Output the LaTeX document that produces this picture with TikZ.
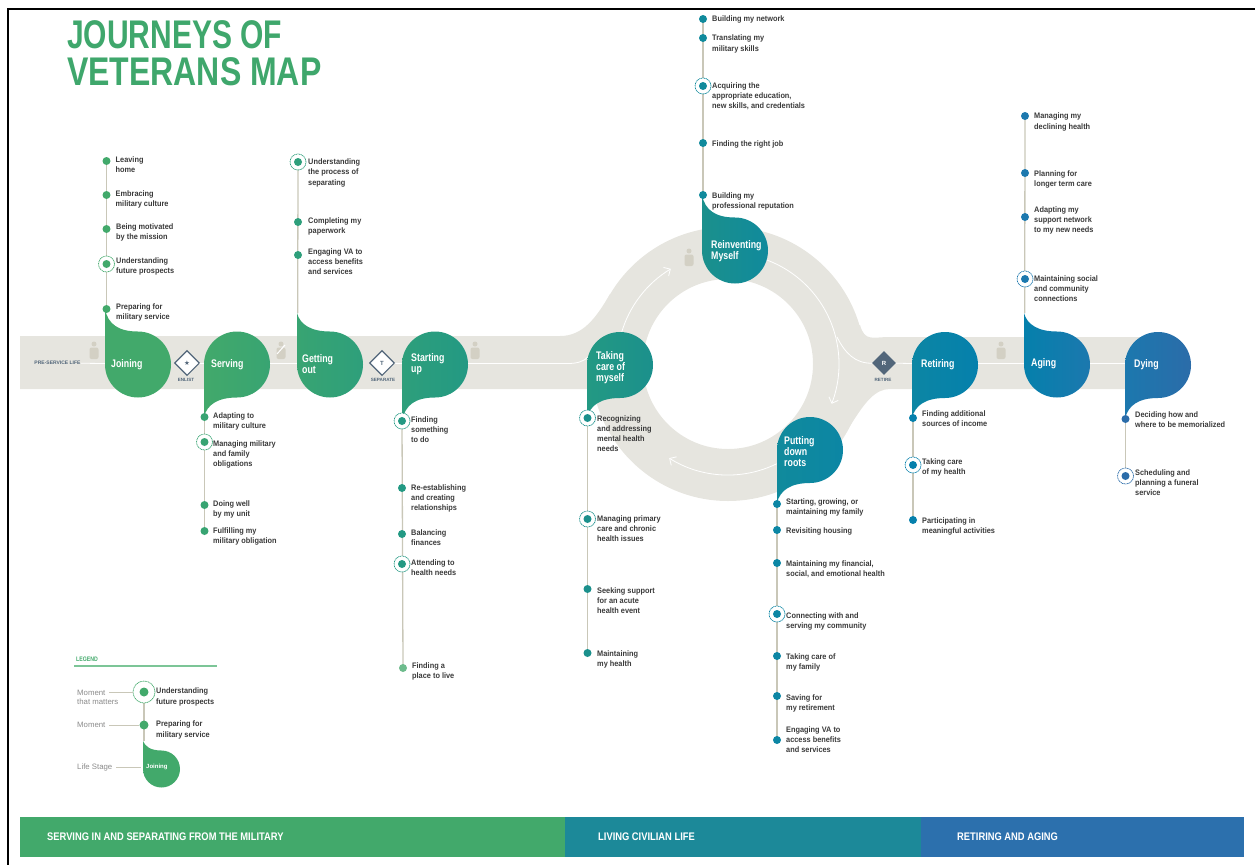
\documentclass[tikz,border=0pt]{standalone}
\usepackage{fontspec}
\usetikzlibrary{shapes.geometric,arrows.meta}
\setmainfont{Liberation Sans}
\newfontfamily\titlef[FakeStretch=0.75]{Liberation Sans}
\newfontfamily\titleg[FakeStretch=0.80]{Liberation Sans}
\newfontfamily\condf[FakeStretch=0.8]{Liberation Sans}
\newfontfamily\barf[FakeStretch=0.85]{Liberation Sans}
\newfontfamily\momf[FakeStretch=0.92]{Liberation Sans}
\newfontfamily\symf{DejaVu Sans}
\definecolor{bandc}{HTML}{E6E5DF}
\definecolor{spinec}{HTML}{C9C7B8}
\definecolor{iconc}{HTML}{D3D0C4}
\definecolor{slatec}{HTML}{52667A}
\definecolor{titlec}{HTML}{3FA76C}
\definecolor{momtc}{HTML}{3A3A3A}
\definecolor{legc}{HTML}{8A8A8A}
\definecolor{legrule}{HTML}{7CC597}
\definecolor{cj}{HTML}{42A96B}
\definecolor{cs}{HTML}{38A472}
\definecolor{cg}{HTML}{2E9F7B}
\definecolor{cu}{HTML}{239983}
\definecolor{ct}{HTML}{1B908C}
\definecolor{cr}{HTML}{108A9C}
\definecolor{cp}{HTML}{0C86A4}
\definecolor{ci}{HTML}{0580AC}
\definecolor{ca}{HTML}{1C78AE}
\definecolor{cd}{HTML}{2B6CA9}
\definecolor{cl}{HTML}{6DBB8C}
\definecolor{barteal}{HTML}{1C8999}
\definecolor{barblue}{HTML}{2C70AD}
\pgfdeclarelayer{bandlayer}
\pgfdeclarelayer{spinelayer}
\pgfsetlayers{bandlayer,spinelayer,main}
\tikzset{
 dotn/.style={circle,inner sep=0,minimum size=8pt},
 ringn/.style={circle,inner sep=0,minimum size=16pt,fill=white,line width=.7pt,dash pattern=on 1.1pt off .6pt},
 momtext/.style={inner sep=0,anchor=north west,align=left,text=momtc,font=\momf\bfseries\fontsize{8}{10.3}\selectfont},
 bloblab/.style={inner sep=0,anchor=west,align=left,text=white,font=\condf\bfseries\fontsize{11}{10.9}\selectfont},
 spinel/.style={draw=spinec,line width=1.3pt},
 flow/.style={draw=white,line width=.8pt},
 flowarrow/.style={draw=white,line width=.8pt,-{Straight Barb[length=5pt,width=10pt]}},
 gate/.style={diamond,inner sep=0,minimum width=25pt,minimum height=25pt,fill=white,draw=slatec,line width=1.1pt,text=slatec},
 gatefilled/.style={diamond,inner sep=0,minimum width=24pt,minimum height=24pt,fill=slatec,text=white},
 gatelab/.style={inner sep=0,text=slatec,font=\bfseries\fontsize{4.6}{5}\selectfont},
 legtext/.style={inner sep=0,anchor=west,align=left,text=legc,font=\fontsize{7.8}{9.2}\selectfont},
 legline/.style={draw=spinec,line width=.8pt},
 bartext/.style={inner sep=0,anchor=west,text=white,font=\barf\bfseries\fontsize{11}{12}\selectfont},
}
\newcommand\bup[9]{% name,L,cy,tip,c1,c2,labelx,labely,text
 \shade[left color=#5,right color=#6] (#2,-#3) -- (#2,-#4) .. controls (#2+3,{-#3+40}) and (#2+14,{-#3+33}) .. (#2+33,{-#3+33}) arc (90:-180:33) -- cycle;
 \coordinate (#1tip) at (#2+.7,-#4);
 \node[bloblab] (#1) at (#7,-#8) {#9};}
\newcommand\bdn[9]{%
 \shade[left color=#5,right color=#6] (#2,-#3) arc (180:-90:33) .. controls (#2+14,{-#3-33}) and (#2+3,{-#3-40}) .. (#2,-#4) -- cycle;
 \coordinate (#1tip) at (#2+.7,-#4);
 \node[bloblab] (#1) at (#7,-#8) {#9};}
\newcommand\mom[7]{% name,colour,x,y,tx,ty,text
 \node[dotn,fill=#2] (#1) at (#3,-#4) {};
 \node[momtext] (#1t) at (#5,{-#6+3}) {#7};}
\newcommand\momr[7]{%
 \node[ringn,draw=#2] (#1r) at (#3,-#4) {};
 \node[dotn,fill=#2] (#1) at (#3,-#4) {};
 \node[momtext] (#1t) at (#5,{-#6+3}) {#7};}
\newcommand\person[2]{%
 \fill[iconc] (#1,{-#2-6}) circle (2.5);
 \fill[iconc,rounded corners=2pt] (#1-4.5,{-#2-9.5}) rectangle (#1+4.5,{-#2-21});}
\newcommand\spinebetween[2]{\begin{pgfonlayer}{spinelayer}\draw[spinel] (#1.center) -- (#2.center);\end{pgfonlayer}}
\begin{document}
\begin{tikzpicture}[x=1pt,y=1pt]
\useasboundingbox (0,0) rectangle (1255,-865);
% frame
\draw[black,line width=1.6pt] (1255,-9) -- (8,-9) -- (8,-865);
% title
\node[inner sep=0,anchor=north west,align=left,text=titlec,font=\bfseries\fontsize{40}{37}\selectfont] (title) at (67,-20.5) {{\titlef\bfseries JOURNEYS OF}\\{\titleg\bfseries VETERANS MAP}};
% band and ring
\begin{pgfonlayer}{bandlayer}
\fill[bandc,even odd rule] (728,-364) circle (137) (728,-364) circle (85);
\fill[bandc] (20,-336) -- (560,-336) .. controls (583,-336) and (596,-318) .. (610,-294) -- (622,-340) -- (622,-389) -- (20,-389) -- cycle;
\fill[bandc] (860,-325) .. controls (865,-342) and (872,-337) .. (890,-337) -- (1150,-337) -- (1150,-389) -- (890,-389) .. controls (875,-389) and (865,-402) .. (850,-426) -- (820,-390) -- (820,-340) -- cycle;
\end{pgfonlayer}
% icons
\person{94}{338}
\person{281}{338}
\draw[white,line width=1pt] (277,-354) -- (285,-345);
\person{475}{338}
\person{689}{245}
\person{1001}{338}
% flow lines
\node[inner sep=0,text=slatec,font=\bfseries\fontsize{5}{6}\selectfont] (pre) at (57.5,-363) {PRE-SERVICE LIFE};
\node[gate] (enlist) at (187,-363) {\symf\fontsize{6.5}{7}\selectfont ★};
\node[gatelab] (enlistl) at (186,-380) {ENLIST};
\node[gate] (sep) at (382,-363) {\bfseries\fontsize{6}{7}\selectfont T};
\node[gatelab] (sepl) at (383,-380) {SEPARATE};
\node[gatefilled] (ret) at (884,-363) {\bfseries\fontsize{6}{7}\selectfont R};
\node[gatelab] (retl) at (883,-380) {RETIRE};
\coordinate (fa) at (105,-363.5);
\coordinate (fb) at (204,-363.5);
\coordinate (fc) at (297,-363.5);
\coordinate (fd) at (402,-363.5);
\coordinate (fe) at (467,-363.5);
\coordinate (ff) at (588,-357);
\coordinate (fg) at (837,-337);
\coordinate (fh) at (912,-363.5);
\coordinate (fi) at (978,-363.5);
\coordinate (fj) at (1024,-363.5);
\coordinate (fk) at (1089,-363.5);
\coordinate (fl) at (1125,-363.5);
\coordinate (fm) at (269,-363.5);
\draw[flow] (pre) -- (fa);
\draw[flow] (enlist) -- (fb);
\draw[flow] (fm) -- (fc);
\draw[flow] (sep) -- (fd);
\draw[flow] (fe) -- (568,-363.5) .. controls (578,-363.5) and (584,-361) .. (ff);
\draw[flow] (fg) .. controls (845,-353) and (855,-363.5) .. (ret);
\draw[flow] (ret) -- (fh);
\draw[flow] (fi) -- (fj);
\draw[flow] (fk) -- (fl);
\coordinate (a1) at (728,-364);
\draw[flowarrow] (a1) ++(164:111) arc (164:121:111);
\draw[flowarrow] (a1) ++(70:111) arc (70:-21:111);
\draw[flowarrow] (a1) ++(-64:111) arc (-64:-122:111);
% blobs
\bup{joining}{105}{364.5}{309}{cj}{cj}{111}{364.5}{Joining}
\bdn{serving}{204}{364.5}{417}{cj}{cs}{211}{364.5}{Serving}
\bup{getting}{297}{364.5}{313}{cs}{cg}{302}{364.5}{Getting\\out}
\bdn{starting}{402}{364.5}{421}{cg}{cu}{411}{364.5}{Starting\\up}
\bdn{taking}{587}{365}{418}{cu}{ct}{596}{368}{Taking\\care of\\myself}
\bup{reinv}{702}{250.5}{195}{ct}{cr}{711}{251}{Reinventing\\Myself}
\bdn{putting}{777}{450}{503}{cr}{cp}{784}{451.5}{Putting\\down\\roots}
\bdn{retiring}{912}{365}{418}{cp}{ci}{921}{364.5}{Retiring}
\bup{aging}{1024}{364.5}{313}{ci}{ca}{1031}{363.5}{Aging}
\bdn{dying}{1125}{365}{419}{ca}{cd}{1134}{364.5}{Dying}
% moments: Joining
\mom{ja}{cj}{106.5}{161}{115.5}{159}{Leaving\\home}
\mom{jb}{cj}{106.5}{195}{115.5}{193}{Embracing\\military culture}
\mom{jc}{cj}{106.5}{229}{116}{226.5}{Being motivated\\by the mission}
\momr{jd}{cj}{106.5}{264}{116}{260}{Understanding\\future prospects}
\mom{je}{cj}{106.5}{309}{116}{306.5}{Preparing for\\military service}
\spinebetween{ja}{je}
% Serving
\mom{sa}{cs}{204.5}{417}{213}{415}{Adapting to\\military culture}
\momr{sb}{cs}{204.5}{442}{213}{443}{Managing military\\and family\\obligations}
\mom{sc}{cs}{204.5}{505}{213}{503}{Doing well\\by my unit}
\mom{sd}{cs}{204.5}{531}{213}{530}{Fulfilling my\\military obligation}
\spinebetween{sa}{sd}
% Getting out
\momr{ga}{cg}{298}{162}{308}{161.5}{Understanding\\the process of\\separating}
\mom{gb}{cg}{298}{222}{308}{220.5}{Completing my\\paperwork}
\mom{gc}{cg}{298}{255}{308}{251}{Engaging VA to\\access benefits\\and services}
\spinebetween{ga}{gettingtip}
% Starting up
\momr{ua}{cu}{402}{421}{411}{419}{Finding\\something\\to do}
\mom{ub}{cu}{402}{488}{411}{487}{Re-establishing\\and creating\\relationships}
\mom{uc}{cu}{402}{534}{411}{532}{Balancing\\finances}
\momr{ud}{cu}{402}{564}{411}{562}{Attending to\\health needs}
\mom{ue}{cl}{403}{668}{412}{665}{Finding a\\place to live}
\spinebetween{ua}{ue}
% Taking care
\momr{ta}{ct}{587.5}{418}{597}{418}{Recognizing\\and addressing\\mental health\\needs}
\momr{tb}{ct}{587.5}{519}{597}{518}{Managing primary\\care and chronic\\health issues}
\mom{tc}{ct}{587.5}{589}{597}{590}{Seeking support\\for an acute\\health event}
\mom{td}{ct}{587.5}{653}{597}{653}{Maintaining\\my health}
\spinebetween{ta}{td}
% Reinventing
\mom{ra}{cr}{703}{19}{712}{19}{Building my network}
\mom{rb}{cr}{703}{38}{712}{38}{Translating my\\military skills}
\momr{rc}{cr}{703}{86}{712}{85}{Acquiring the\\appropriate education,\\new skills, and credentials}
\mom{rd}{cr}{703}{143}{712}{143}{Finding the right job}
\mom{re}{cr}{703}{195}{712}{195}{Building my\\professional reputation}
\spinebetween{ra}{re}
% Putting down roots
\mom{pa}{cp}{777}{504}{786}{501}{Starting, growing, or\\maintaining my family}
\mom{pb}{cp}{777}{530}{786}{530}{Revisiting housing}
\mom{pc}{cp}{777}{563}{786}{563}{Maintaining my financial,\\social, and emotional health}
\momr{pd}{cp}{777}{614}{786}{615}{Connecting with and\\serving my community}
\mom{pe}{cp}{777}{656}{786}{656}{Taking care of\\my family}
\mom{pf}{cp}{777}{696}{786}{697}{Saving for\\my retirement}
\mom{pg}{cp}{777}{740}{786}{729}{Engaging VA to\\access benefits\\and services}
\spinebetween{pa}{pg}
% Retiring
\mom{ia}{ci}{913}{418}{922}{413}{Finding additional\\sources of income}
\momr{ib}{ci}{913}{465}{922}{461}{Taking care\\of my health}
\mom{ic}{ci}{913}{520}{922}{520}{Participating in\\meaningful activities}
\spinebetween{ia}{ic}
% Aging
\mom{aa}{ca}{1025}{116}{1034}{116}{Managing my\\declining health}
\mom{ab}{ca}{1025}{173}{1034}{173}{Planning for\\longer term care}
\mom{ac}{ca}{1025}{217}{1034}{209}{Adapting my\\support network\\to my new needs}
\momr{ad}{ca}{1025}{279}{1034}{278}{Maintaining social\\and community\\connections}
\spinebetween{aa}{agingtip}
% Dying
\mom{da}{cd}{1125.5}{419}{1135}{414}{Deciding how and\\where to be memorialized}
\momr{db}{cd}{1125.5}{476}{1135}{472}{Scheduling and\\planning a funeral\\service}
\spinebetween{da}{db}
% legend
\node[inner sep=0,anchor=west,text=cj,font=\condf\bfseries\fontsize{6.5}{8}\selectfont] (leg) at (76,-659) {LEGEND};
\coordinate (lega) at (74,-666);
\coordinate (legb) at (217,-666);
\fill[legrule] (74,-665) rectangle (217,-666.5);
\node[ringn,draw=cj,minimum size=22pt] (lr) at (144,-692) {};
\node[dotn,fill=cj,minimum size=9pt] (ld1) at (144,-692) {};
\node[dotn,fill=cj,minimum size=9pt] (ld2) at (144,-725) {};
\shade[left color=cj,right color=cj] (143,-769) -- (143,-741) .. controls (145,-746) and (150,-750.5) .. (161.5,-750.5) arc (90:-180:18.5) -- cycle;
\coordinate (ltip) at (144,-741);
\spinebetween{ld1}{ltip}
\node[legtext] (lt1) at (77,-697) {Moment\\that matters};
\node[legtext] (lt2) at (77,-725) {Moment};
\node[legtext] (lt3) at (77,-767) {Life Stage};
\coordinate (lc1) at (109,-692);
\coordinate (lc2) at (109,-725);
\coordinate (lc3) at (116,-767);
\coordinate (lc4) at (141,-767);
\draw[legline] (lc1) -- (lr);
\draw[legline] (lc2) -- (ld2);
\draw[legline] (lc3) -- (lc4);
\node[momtext,anchor=west] (ls1) at (156,-697) {Understanding\\future prospects};
\node[momtext,anchor=west] (ls2) at (156,-730) {Preparing for\\military service};
\node[inner sep=0,anchor=west,text=white,font=\bfseries\fontsize{6}{7}\selectfont] (ljoin) at (146,-767) {Joining};
% bottom bars
\fill[cj] (20,-816.5) rectangle (565,-856.5);
\fill[barteal] (565,-816.5) rectangle (921,-856.5);
\fill[barblue] (921,-816.5) rectangle (1244,-856.5);
\node[bartext] (b1) at (47,-837) {SERVING IN AND SEPARATING FROM THE MILITARY};
\node[bartext] (b2) at (598,-837) {LIVING CIVILIAN LIFE};
\node[bartext] (b3) at (957,-837) {RETIRING AND AGING};
\end{tikzpicture}
\end{document}
